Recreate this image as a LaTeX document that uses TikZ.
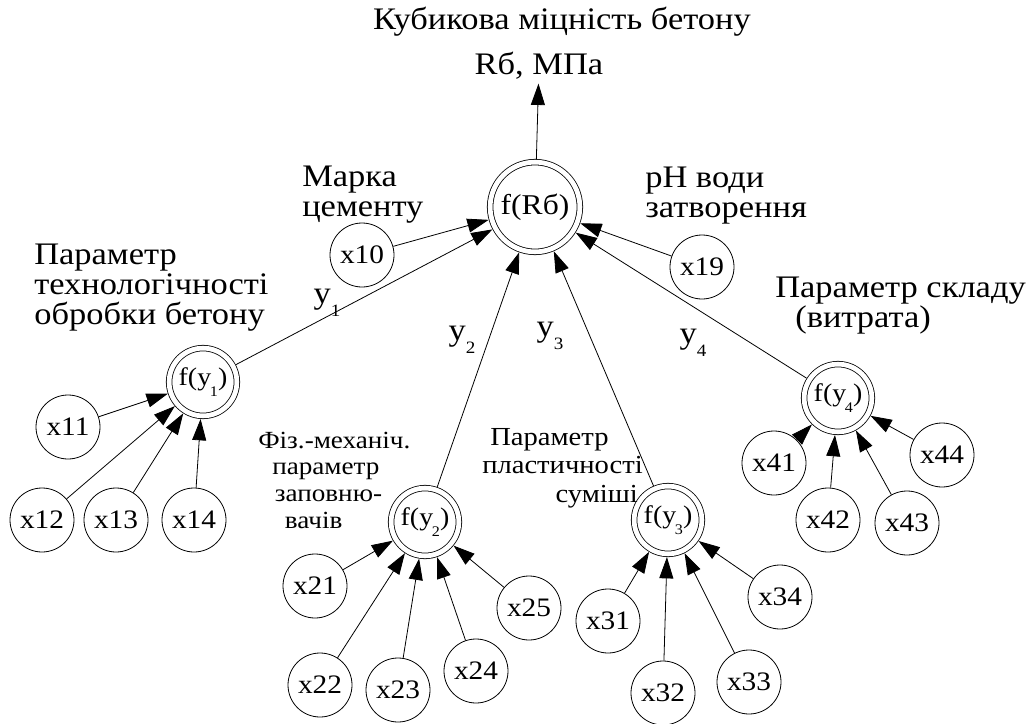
\documentclass[tikz,border=0pt]{standalone}
\usepackage{fontspec}
\setmainfont{Liberation Serif}[FakeStretch=1.1]
\usetikzlibrary{arrows.meta}
\newcommand\ysub[1]{y\raisebox{-0.9ex}{\fontsize{13}{13}\selectfont #1}}
\newcommand\fsub[1]{y\kern-0.05em\raisebox{-0.9ex}{\fontsize{11}{11}\selectfont #1}}

\begin{document}
\begin{tikzpicture}[x=0.75pt,y=-0.75pt,
  var/.style={circle,draw,line width=0.6pt,minimum size=48pt,inner sep=0pt,
              font=\fontsize{20}{20}\selectfont},
  fun/.style={circle,draw,line width=0.6pt,double,double distance=3.6pt,
              outer sep=2.4pt,minimum size=50.8pt,inner sep=0pt,
              font=\fontsize{19}{19}\selectfont},
  txt/.style={align=left,inner sep=0pt,font=\fontsize{23.5}{22.5}\selectfont},
  arr/.style={-{Triangle[length=16pt,width=10.5pt]},line width=0.6pt}]
\useasboundingbox (0,0) rectangle (1035,724);

% output of the model
\node[txt] (title) at (562,22) {Кубикова міцність бетону};
\node[txt,outer sep=3pt] (units) at (539,66) {Rб, МПа};
\node[fun,minimum size=67.3pt,font=\fontsize{21.5}{21.5}\selectfont] (fR)
  at (535,207) {f(Rб)};
\node[var] (x10) at (362,255) {x10};
\node[var] (x19) at (702,267) {x19};
\node[txt,anchor=west] (marka) at (302,195) {Марка\\цементу};
\node[txt,anchor=west] (ph) at (645,196) {pH води\\затворення};

% second level functions
\node[fun] (fy1) at (203,382) {f(\fsub{1})};
\node[fun] (fy2) at (425,522) {f(\fsub{2})};
\node[fun] (fy3) at (668,520) {f(\fsub{3})};
\node[fun] (fy4) at (838,398) {f(\fsub{4})};

\node[txt] (y1) at (327,303) {\ysub{1}};
\node[txt] (y2) at (462,340) {\ysub{2}};
\node[txt] (y3) at (550,336) {\ysub{3}};
\node[txt] (y4) at (693,343) {\ysub{4}};

\node[txt,anchor=west] (lab1) at (34,288)
  {Параметр\\технологічності\\обробки бетону};
\node[txt,anchor=west,font=\fontsize{18.5}{20}\selectfont] (lab2) at (258,480)
  {Фіз.-механіч.\\\hspace*{10.5pt}параметр\\\hspace*{12.5pt}заповню-\\\hspace*{20pt}вачів};
\node[txt,anchor=west,font=\fontsize{19.5}{21.4}\selectfont] (lab3) at (482,468)
  {\hspace*{6pt}Параметр\\пластичності\\\hspace*{55pt}суміші};
\node[txt,anchor=west] (lab4) at (775,306)
  {Параметр складу\\\hspace*{15pt}(витрата)};

% input variables
\node[var] (x11) at (68,427) {x11};
\node[var] (x12) at (42,520) {x12};
\node[var] (x13) at (116,520) {x13};
\node[var] (x14) at (194,520) {x14};

\node[var] (x21) at (315,586) {x21};
\node[var] (x22) at (320,685) {x22};
\node[var] (x23) at (398,690) {x23};
\node[var] (x24) at (476,671) {x24};
\node[var] (x25) at (529,608) {x25};

\node[var] (x31) at (608,621) {x31};
\node[var] (x32) at (663,693) {x32};
\node[var] (x33) at (749,682) {x33};
\node[var] (x34) at (780,597) {x34};

\node[var] (x41) at (774,463) {x41};
\node[var] (x42) at (828,520) {x42};
\node[var] (x43) at (907,523) {x43};
\node[var] (x44) at (942,455) {x44};

% connections
\draw[arr] (fR) -- (units);
\draw[arr] (x10) -- (fR);
\draw[arr] (x19) -- (fR);
\draw[arr] (fy1) -- (fR);
\draw[arr] (fy2) -- (fR);
\draw[arr] (fy3) -- (fR);
\draw[arr] (fy4) -- (fR);

\draw[arr] (x11) -- (fy1);
\draw[arr] (x12) -- (fy1);
\draw[arr] (x13) -- (fy1);
\draw[arr] (x14) -- (fy1);

\draw[arr] (x21) -- (fy2);
\draw[arr] (x22) -- (fy2);
\draw[arr] (x23) -- (fy2);
\draw[arr] (x24) -- (fy2);
\draw[arr] (x25) -- (fy2);

\draw[arr] (x31) -- (fy3);
\draw[arr] (x32) -- (fy3);
\draw[arr] (x33) -- (fy3);
\draw[arr] (x34) -- (fy3);

\draw[arr] (x41) -- (fy4);
\draw[arr] (x42) -- (fy4);
\draw[arr] (x43) -- (fy4);
\draw[arr] (x44) -- (fy4);
\end{tikzpicture}
\end{document}
